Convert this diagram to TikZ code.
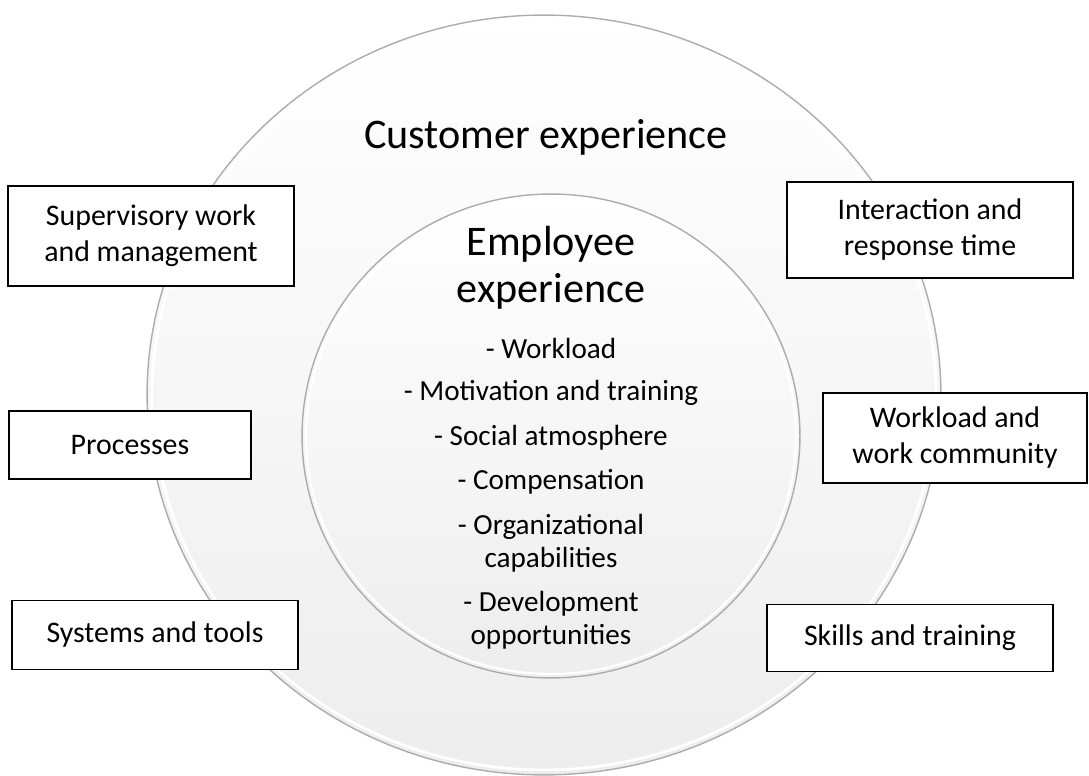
\documentclass[tikz,border=0pt]{standalone}
\usepackage{fontspec}
\setmainfont{Carlito}
\usepackage{tikz}
\usetikzlibrary{positioning}

\tikzset{
  ring/.style={draw=gray!65, line width=0.8pt, top color=white, bottom color=gray!14},
  infobox/.style={draw=black, line width=0.7pt, fill=white, align=center,
                  inner sep=0pt, font=\fontsize{17}{20.5}\selectfont},
  bigtitle/.style={align=center, font=\fontsize{24}{27}\selectfont},
  listitem/.style={align=center, font=\fontsize{16.6}{18.8}\selectfont}
}

\begin{document}
\begin{tikzpicture}[x=0.02cm, y=-0.02cm]
  \useasboundingbox (0,0) rectangle (1089,776);

  % outer and inner rings
  \path[ring] (544,395) ellipse [x radius=7.94cm, y radius=7.6cm];
  \draw[white, line width=1.5pt] (544,395) ellipse [x radius=7.84cm, y radius=7.5cm];
  \path[ring] (551,436) ellipse [x radius=4.98cm, y radius=4.84cm];
  \draw[white, line width=1.2pt] (551,436) ellipse [x radius=4.9cm, y radius=4.76cm];

  % titles
  \node[bigtitle] (cust) at (546,137) {Customer experience};
  \node[bigtitle] (empl) at (551,268) {Employee\\experience};

  % employee list
  \node[listitem] (l1) at (551,348) {- Workload};
  \node[listitem] (l2) at (551,393) {- Motivation and training};
  \node[listitem] (l3) at (551,438) {- Social atmosphere};
  \node[listitem] (l4) at (551,482) {- Compensation};
  \node[listitem] (l5) at (551,543) {- Organizational\\capabilities};
  \node[listitem] (l6) at (551,620) {- Development\\opportunities};

  % boxes on the left
  \node[infobox, minimum width=5.72cm, minimum height=2cm] (superv) at (151,236)
    {Supervisory work\\and management};
  \node[infobox, minimum width=4.84cm, minimum height=1.36cm] (proc) at (130,445)
    {Processes};
  \node[infobox, minimum width=5.72cm, minimum height=1.38cm] (systools) at (155,635)
    {Systems and tools};

  % boxes on the right
  \node[infobox, minimum width=5.72cm, minimum height=1.92cm] (interact) at (930,230)
    {Interaction and\\response time};
  \node[infobox, minimum width=5.28cm, minimum height=1.8cm] (workcomm) at (955,438)
    {Workload and\\work community};
  \node[infobox, minimum width=5.72cm, minimum height=1.34cm] (skills) at (910,638)
    {Skills and training};
\end{tikzpicture}
\end{document}
